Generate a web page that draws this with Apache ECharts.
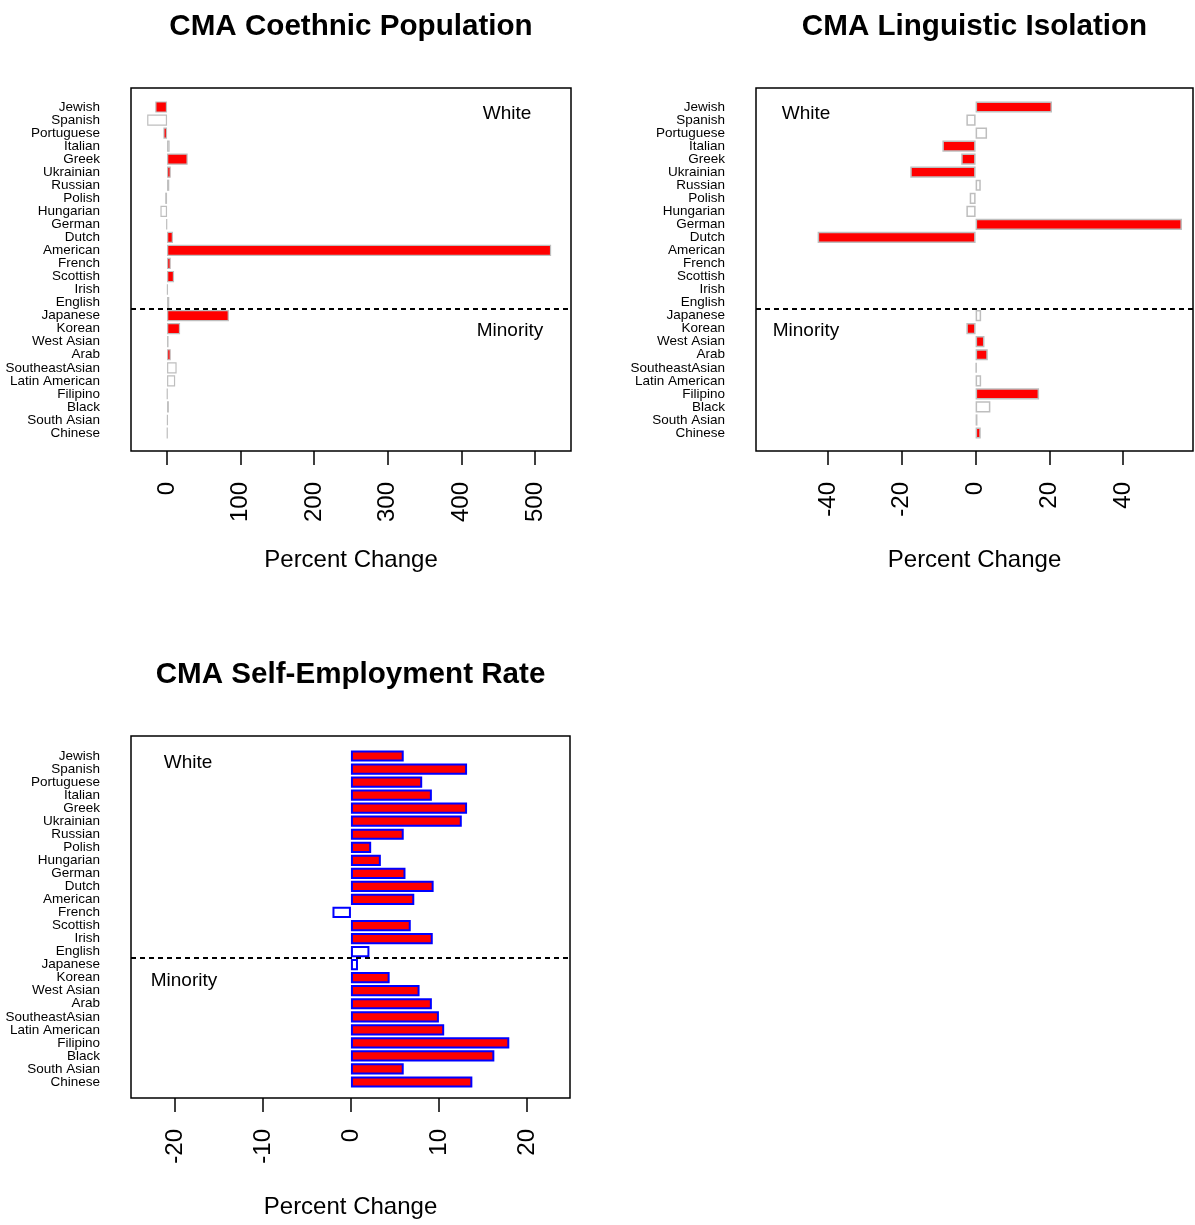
<!DOCTYPE html>
<html>
<head>
<meta charset="utf-8">
<title>CMA Percent Change by Ethnic Group</title>
<script src="https://cdn.jsdelivr.net/npm/echarts@6/dist/echarts.min.js"></script>
<style>
  html, body { margin: 0; padding: 0; background: #fff; }
  #chart { width: 1195px; height: 1225px; }
</style>
</head>
<body>
<div id="chart"></div>
<script>
// Ethnic groups, top to bottom; the first 16 are the White groups
const categories = [
  'Jewish', 'Spanish', 'Portuguese', 'Italian', 'Greek', 'Ukrainian', 'Russian',
  'Polish', 'Hungarian', 'German', 'Dutch', 'American', 'French', 'Scottish',
  'Irish', 'English', 'Japanese', 'Korean', 'West Asian', 'Arab',
  'SoutheastAsian', 'Latin American', 'Filipino', 'Black', 'South Asian', 'Chinese'
];
const whiteGroupCount = 16;

// CMA coethnic population, percent change (1 = significant)
const coethnicChange = [
  -16, -27, -5, 3.5, 28, 5, 3, -2.5, -9, -1, 8, 522, 5, 9.5,
  1, 3, 84, 17.7, 2, 5, 13, 11, 0.5, 2.5, 1, 0.5
];
const coethnicSig = [
  1, 0, 1, 0, 1, 1, 0, 0, 0, 0, 1, 1, 1, 1,
  0, 0, 1, 1, 0, 1, 0, 0, 0, 0, 0, 0
];

// CMA linguistic isolation, percent change (null = not available)
const isolationChange = [
  20.7, -2.5, 3.1, -9.0, -3.9, -17.7, 1.4, -1.6, -2.5, 55.9, -42.8, null, null, null,
  null, null, 1.5, -2.5, 2.4, 3.3, 0.3, 1.5, 17.2, 4.0, 0.5, 1.4
];
const isolationSig = [
  1, 0, 0, 1, 1, 1, 0, 0, 0, 1, 1, 0, 0, 0,
  0, 0, 0, 1, 1, 1, 0, 0, 1, 0, 0, 1
];

// CMA self-employment rate, percent change
const selfEmpChange = [
  6.0, 13.2, 8.1, 9.2, 13.2, 12.6, 6.0, 2.3, 3.4, 6.2, 9.4, 7.2, -2.1, 6.8,
  9.3, 2.1, 0.8, 4.4, 7.8, 9.2, 10.0, 10.6, 18.0, 16.3, 6.0, 13.8
];
const selfEmpSig = [
  1, 1, 1, 1, 1, 1, 1, 1, 1, 1, 1, 1, 0, 1,
  1, 0, 0, 1, 1, 1, 1, 1, 1, 1, 1, 1
];

// Tick labels of the three value axes
const coethnicTicks = [0, 100, 200, 300, 400, 500];
const isolationTicks = [-40, -20, 0, 20, 40];
const selfEmpTicks = [-20, -10, 0, 10, 20];

const FONT = "'Liberation Sans', Arial, sans-serif";

const panels = [
  {
    title: 'CMA Coethnic Population', titleY: 27,
    values: coethnicChange, sig: coethnicSig,
    ticks: coethnicTicks, min: -49, max: 549,
    box: { left: 131, top: 88, right: 571, bottom: 451 }, firstRow: 107,
    border: '#bebebe', borderWidth: 1.2,
    whiteText: { x: 507, y: 114 }, minorityText: { x: 510, y: 331 }
  },
  {
    title: 'CMA Linguistic Isolation', titleY: 27,
    values: isolationChange, sig: isolationSig,
    ticks: isolationTicks, min: -59.5, max: 58.9,
    box: { left: 756, top: 88, right: 1193, bottom: 451 }, firstRow: 107,
    border: '#bebebe', borderWidth: 1.5,
    whiteText: { x: 806, y: 114 }, minorityText: { x: 806, y: 331 }
  },
  {
    title: 'CMA Self-Employment Rate', titleY: 675,
    values: selfEmpChange, sig: selfEmpSig,
    ticks: selfEmpTicks, min: -25, max: 24.9,
    box: { left: 131, top: 736, right: 570, bottom: 1098 }, firstRow: 756,
    border: '#0000ff', borderWidth: 2,
    whiteText: { x: 188, y: 763 }, minorityText: { x: 184, y: 981 }
  }
];

const rowStep = 13.04;
const grid = [], xAxis = [], yAxis = [], series = [], graphic = [];

panels.forEach((p) => {
  const w = p.box.right - p.box.left;
  const h = p.box.bottom - p.box.top;
  const boxGrid = grid.length;
  // frame carrying the value axis ticks and its title
  grid.push({
    left: p.box.left, top: p.box.top, width: w, height: h,
    show: true, borderColor: '#000', borderWidth: 1.5, backgroundColor: 'transparent'
  });
  const dataGrid = grid.length;
  // bar area: one row per group
  grid.push({
    left: p.box.left, width: w,
    top: p.firstRow - rowStep / 2, height: rowStep * categories.length,
    show: false
  });

  xAxis.push({
    gridIndex: boxGrid, type: 'value', min: p.min, max: p.max,
    axisLine: { show: false },
    axisTick: { show: true, length: 14, customValues: p.ticks,
      lineStyle: { color: '#000', width: 1.5 } },
    axisLabel: { show: true, rotate: 90, margin: 31, customValues: p.ticks,
      fontSize: 24, color: '#000', fontFamily: FONT },
    splitLine: { show: false },
    name: 'Percent Change', nameLocation: 'middle', nameGap: 97,
    nameTextStyle: { fontSize: 24, color: '#000', fontFamily: FONT }
  });
  xAxis.push({
    gridIndex: dataGrid, type: 'value', min: p.min, max: p.max, show: false
  });
  const dataX = xAxis.length - 1;

  yAxis.push({ gridIndex: boxGrid, type: 'value', min: 0, max: 1, show: false });
  yAxis.push({
    gridIndex: dataGrid, type: 'category', data: categories, inverse: true,
    axisLine: { show: false }, axisTick: { show: false },
    axisLabel: { interval: 0, margin: 31, fontSize: 13.5, color: '#000',
      fontFamily: FONT, hideOverlap: false },
    splitLine: { show: false }
  });
  const catY = yAxis.length - 1;
  yAxis.push({
    gridIndex: dataGrid, type: 'value', min: 0, max: categories.length,
    inverse: true, show: false
  });
  const rowY = yAxis.length - 1;

  series.push({
    type: 'bar', xAxisIndex: dataX, yAxisIndex: catY,
    barCategoryGap: '14%', silent: true, animation: false,
    data: p.values.map((v, i) => ({
      value: v === null ? '-' : v,
      itemStyle: {
        color: p.sig[i] ? '#ff0000' : '#ffffff',
        borderColor: p.border, borderWidth: p.borderWidth
      }
    }))
  });

  // dashed divider between White and Minority groups
  series.push({
    type: 'line', xAxisIndex: dataX, yAxisIndex: rowY, data: [],
    silent: true, animation: false,
    markLine: {
      silent: true, symbol: ['none', 'none'], animation: false,
      label: { show: false },
      lineStyle: { color: '#000', type: [5, 4], width: 1.8 },
      data: [{ yAxis: whiteGroupCount }]
    }
  });

  graphic.push({
    type: 'text', x: (p.box.left + p.box.right) / 2, y: p.titleY,
    style: { text: p.title, font: "bold 29.6px " + FONT, fill: '#000',
      align: 'center', verticalAlign: 'middle' }
  });
  graphic.push({
    type: 'text', x: p.whiteText.x, y: p.whiteText.y,
    style: { text: 'White', font: "19px " + FONT, fill: '#000',
      align: 'center', verticalAlign: 'middle' }
  });
  graphic.push({
    type: 'text', x: p.minorityText.x, y: p.minorityText.y,
    style: { text: 'Minority', font: "19px " + FONT, fill: '#000',
      align: 'center', verticalAlign: 'middle' }
  });
});

const chart = echarts.init(document.getElementById('chart'), null, { renderer: 'canvas' });
chart.setOption({
  backgroundColor: '#ffffff',
  animation: false,
  textStyle: { fontFamily: FONT },
  grid, xAxis, yAxis, series, graphic
});
</script>
</body>
</html>
